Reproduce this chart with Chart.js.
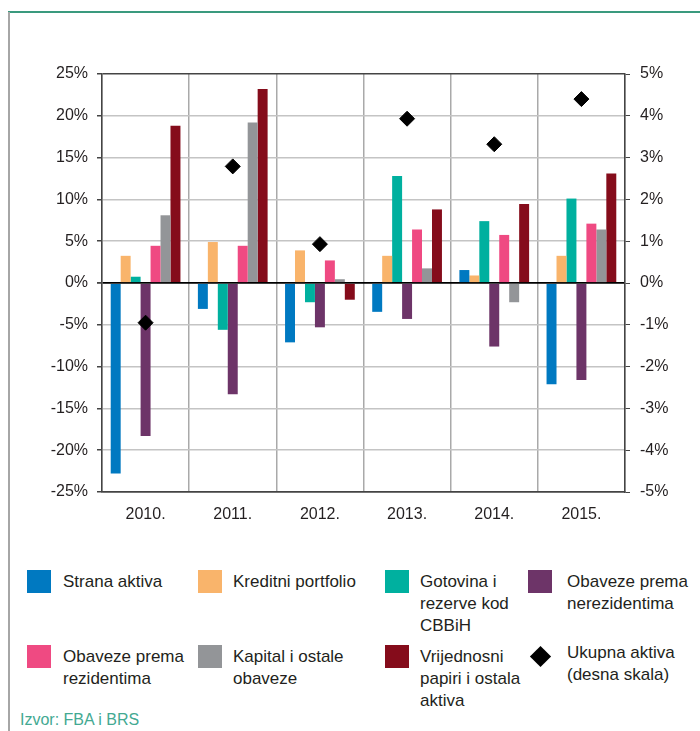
<!DOCTYPE html>
<html lang="bs">
<head>
    <meta charset="UTF-8">
    <title>Promjene aktive i obaveza</title>
    <script src="https://cdn.jsdelivr.net/npm/chart.js"></script>
    <style>
        body {
            margin: 0;
            width: 700px;
            height: 731px;
            background: #fff;
            font-family: 'Liberation Sans', Arial, sans-serif;
            color: #231f20;
            position: relative;
            overflow: hidden;
        }
        .frame-top {
            position: absolute; left: 8px; top: 11px; width: 692px; height: 2px;
            background: #3a9a7e;
        }
        .frame-left {
            position: absolute; left: 8px; top: 12px; width: 1.5px; height: 719px;
            background: #a6a6a6;
        }
        #chart { position: absolute; left: 0; top: 0; }
        .item { position: absolute; font-size: 17px; line-height: 22px; }
        .swatch { position: absolute; width: 24px; height: 23px; }
        .diamond {
            position: absolute; width: 15px; height: 15px; background: #000;
            transform: rotate(45deg);
        }
        .source {
            position: absolute; left: 20px; top: 711px; font-size: 16px;
            color: #43a992;
        }
    </style>
</head>
<body>
    <div class="frame-top"></div>
    <div class="frame-left"></div>
    <canvas id="chart" width="700" height="540"></canvas>
    <div id="legend"></div>
    <div class="source">Izvor: FBA i BRS</div>

    <script>
        const years = ['2010.', '2011.', '2012.', '2013.', '2014.', '2015.'];

        const seriesNames = [
            'Strana aktiva',
            'Kreditni portfolio',
            'Gotovina i rezerve kod CBBiH',
            'Obaveze prema nerezidentima',
            'Obaveze prema rezidentima',
            'Kapital i ostale obaveze',
            'Vrijednosni papiri i ostala aktiva'
        ];
        const seriesColors = ['#0079c1', '#f9b46b', '#00b09f', '#6d3468', '#ef4a82', '#939598', '#850c1b'];

        const stranaAktiva = [-22.8, -3.1, -7.1, -3.45, 1.55, -12.1];
        const kreditniPortfolio = [3.25, 4.9, 3.9, 3.25, 0.9, 3.25];
        const gotovina = [0.75, -5.6, -2.3, 12.8, 7.4, 10.1];
        const obavezeNerez = [-18.3, -13.3, -5.3, -4.3, -7.6, -11.6];
        const obavezeRez = [4.45, 4.45, 2.7, 6.4, 5.75, 7.1];
        const kapital = [8.1, 19.2, 0.45, 1.75, -2.3, 6.4];
        const vrijednosni = [18.8, 23.2, -2.0, 8.8, 9.45, 13.1];

        const ukupnaAktiva = [-0.95, 2.79, 0.93, 3.93, 3.32, 4.4];
        const ukupnaLabel = 'Ukupna aktiva (desna skala)';

        const leftTicks = [-25, 25, 5];   // min, max, step
        const rightTicks = [-5, 5, 1];

        const barValues = [stranaAktiva, kreditniPortfolio, gotovina, obavezeNerez, obavezeRez, kapital, vrijednosni];

        Chart.defaults.font.family = "'Liberation Sans', Arial, sans-serif";
        Chart.defaults.font.size = 16;
        Chart.defaults.color = '#231f20';

        const datasets = barValues.map((vals, i) => ({
            type: 'bar',
            label: seriesNames[i],
            data: vals,
            backgroundColor: seriesColors[i],
            borderWidth: 0,
            yAxisID: 'y',
            categoryPercentage: 0.8,
            barPercentage: 1.0
        }));
        datasets.push({
            type: 'line',
            label: ukupnaLabel,
            data: ukupnaAktiva,
            yAxisID: 'y1',
            showLine: false,
            pointStyle: 'rectRot',
            pointRadius: 7.5,
            pointBackgroundColor: '#000',
            pointBorderColor: '#000',
            order: -1
        });

        function gridColor(ctx) {
            const v = ctx.tick ? ctx.tick.value : null;
            if (v === 0) return '#000';
            if (v === leftTicks[0] || v === leftTicks[1]) return '#444';
            return '#c4c4c4';
        }

        new Chart(document.getElementById('chart'), {
            data: { labels: years, datasets: datasets },
            options: {
                responsive: false,
                animation: false,
                devicePixelRatio: 1,
                layout: { padding: { top: 74, left: 0, right: 0, bottom: 0 } },
                plugins: { legend: { display: false }, tooltip: { enabled: false } },
                scales: {
                    x: {
                        offset: true,
                        grid: { offset: true, color: '#a9a9a9', lineWidth: 1.5, drawTicks: false },
                        border: { color: '#444', width: 1.5 },
                        ticks: { padding: 13 },
                        afterFit: s => { s.height = 48; }
                    },
                    y: {
                        position: 'left',
                        min: leftTicks[0], max: leftTicks[1],
                        ticks: { stepSize: leftTicks[2], padding: 9, callback: v => v + '%' },
                        grid: { color: gridColor, lineWidth: c => (c.tick && c.tick.value === 0 ? 1.8 : 1.5), tickColor: '#444', tickLength: 5 },
                        border: { color: '#444', width: 1.5 },
                        afterFit: s => { s.width = 102; }
                    },
                    y1: {
                        position: 'right',
                        min: rightTicks[0], max: rightTicks[1],
                        ticks: { stepSize: rightTicks[2], padding: 10, callback: v => v + '%' },
                        grid: { drawOnChartArea: false, tickColor: '#444', tickLength: 5 },
                        border: { color: '#444', width: 1.5 },
                        afterFit: s => { s.width = 75; }
                    }
                }
            }
        });

        // legend in four columns, two rows
        const colSwatch = [27, 198, 385, 528];
        const colText = [63, 233, 420, 567];
        const rowTop = [570, 645];
        const legendLines = [
            ['Strana aktiva'],
            ['Kreditni portfolio'],
            ['Gotovina i', 'rezerve kod', 'CBBiH'],
            ['Obaveze prema', 'nerezidentima'],
            ['Obaveze prema', 'rezidentima'],
            ['Kapital i ostale', 'obaveze'],
            ['Vrijednosni', 'papiri i ostala', 'aktiva'],
            ['Ukupna aktiva', '(desna skala)']
        ];
        const legend = document.getElementById('legend');
        legendLines.forEach((lines, i) => {
            const col = i % 4, row = Math.floor(i / 4);
            if (i < 7) {
                const sw = document.createElement('div');
                sw.className = 'swatch';
                sw.style.left = colSwatch[col] + 'px';
                sw.style.top = rowTop[row] + 'px';
                sw.style.background = seriesColors[i];
                legend.appendChild(sw);
            } else {
                const d = document.createElement('div');
                d.className = 'diamond';
                d.style.left = (colSwatch[col] + 5) + 'px';
                d.style.top = (rowTop[row] + 4) + 'px';
                legend.appendChild(d);
            }
            const t = document.createElement('div');
            t.className = 'item';
            t.style.left = colText[col] + 'px';
            t.style.top = (rowTop[row] + 1 - (i === 7 ? 4 : 0)) + 'px';
            t.innerHTML = lines.join('<br>');
            legend.appendChild(t);
        });
    </script>
</body>
</html>
